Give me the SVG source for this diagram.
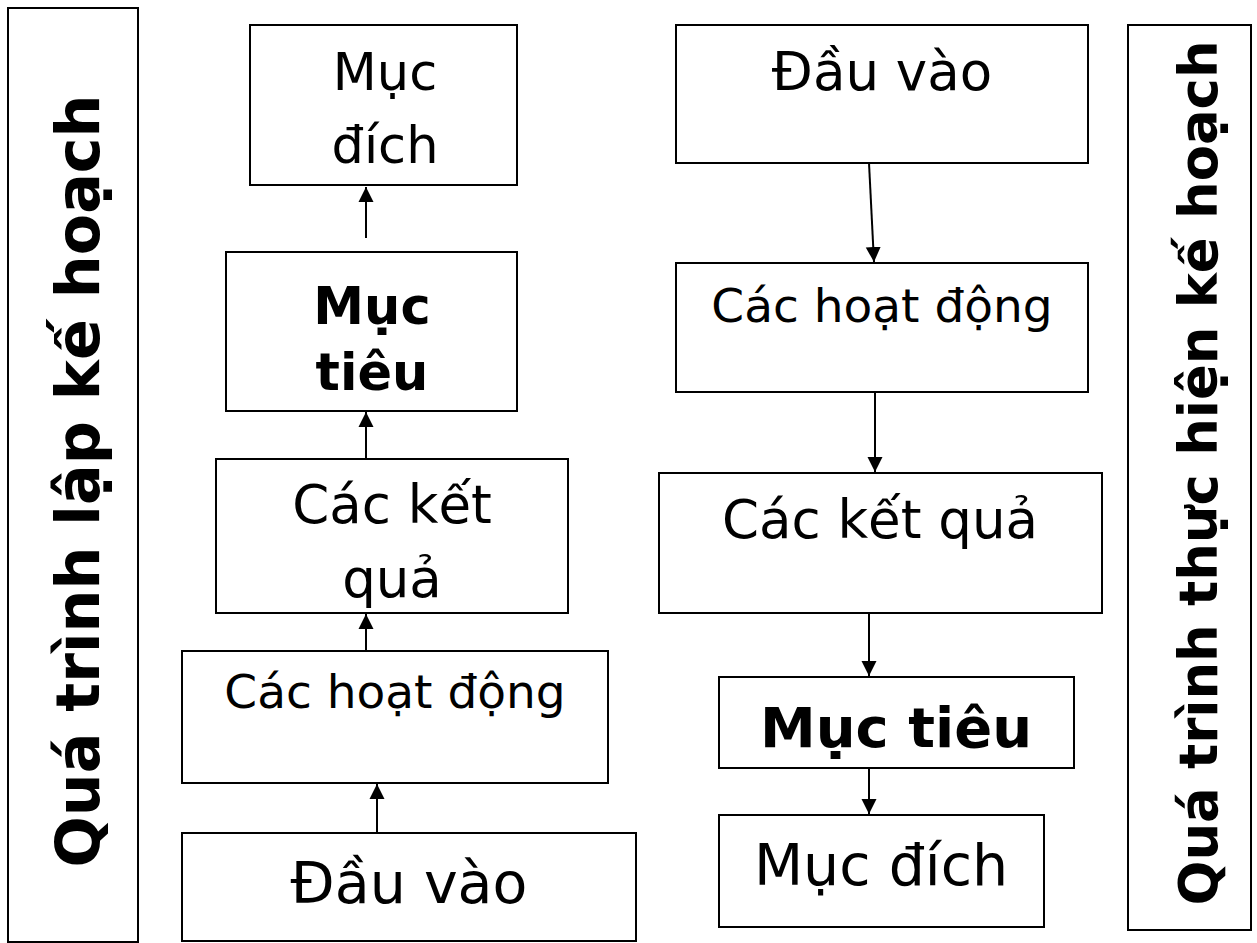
<svg xmlns="http://www.w3.org/2000/svg" width="1257" height="943" viewBox="0 0 1257 943">
<style>
  .box{fill:#fff;stroke:#000;stroke-width:2}
  .t{font-family:"DejaVu Sans","Verdana",sans-serif;fill:#000;text-anchor:middle}
  .b{font-weight:bold}
  .con{stroke:#000;stroke-width:2;fill:none}
</style>
<defs>
  <marker id="ah" markerUnits="userSpaceOnUse" markerWidth="16" markerHeight="16" viewBox="0 0 16 16" refX="15" refY="8" orient="auto">
    <path d="M0,0.5 L15,8 L0,15.5 Z" fill="#000"/>
  </marker>
</defs>
<rect width="1257" height="943" fill="#fff"/>

<g id="side-left">
  <rect class="box" x="8" y="8" width="130" height="934"/>
  <text class="t b" font-size="60" transform="translate(99,481) rotate(-90)" textLength="773" lengthAdjust="spacingAndGlyphs">Quá trình lập kế hoạch</text>
</g>
<g id="side-right">
  <rect class="box" x="1128" y="25" width="123" height="905"/>
  <text class="t b" font-size="53" transform="translate(1217,473) rotate(-90)" textLength="865" lengthAdjust="spacingAndGlyphs">Quá trình thực hiện kế hoạch</text>
</g>

<g id="l-mucdich">
  <rect class="box" x="250" y="25" width="267" height="160"/>
  <text class="t" font-size="51" x="385" y="90">Mục</text>
  <text class="t" font-size="51" x="385" y="163">đích</text>
</g>
<g id="l-muctieu">
  <rect class="box" x="226" y="252" width="291" height="159"/>
  <text class="t b" font-size="51" x="372" y="324">Mục</text>
  <text class="t b" font-size="51" x="372" y="390">tiêu</text>
</g>
<g id="l-ketqua">
  <rect class="box" x="216" y="459" width="352" height="154"/>
  <text class="t" font-size="53" x="392" y="523">Các kết</text>
  <text class="t" font-size="53" x="392" y="597">quả</text>
</g>
<g id="l-hoatdong">
  <rect class="box" x="182" y="651" width="426" height="132"/>
  <text class="t" font-size="47" x="395" y="708">Các hoạt động</text>
</g>
<g id="l-dauvao">
  <rect class="box" x="182" y="833" width="454" height="108"/>
  <text class="t" font-size="57" x="409" y="903">Đầu vào</text>
</g>

<g id="r-dauvao">
  <rect class="box" x="676" y="25" width="412" height="138"/>
  <text class="t" font-size="53" x="882" y="90">Đầu vào</text>
</g>
<g id="r-hoatdong">
  <rect class="box" x="676" y="263" width="412" height="129"/>
  <text class="t" font-size="47" x="882" y="322">Các hoạt động</text>
</g>
<g id="r-ketqua">
  <rect class="box" x="659" y="473" width="443" height="140"/>
  <text class="t" font-size="53" x="880" y="538">Các kết quả</text>
</g>
<g id="r-muctieu">
  <rect class="box" x="719" y="677" width="355" height="91"/>
  <text class="t b" font-size="56" x="896" y="747">Mục tiêu</text>
</g>
<g id="r-mucdich">
  <rect class="box" x="719" y="815" width="325" height="112"/>
  <text class="t" font-size="57" x="881" y="885">Mục đích</text>
</g>

<g id="connectors">
  <line class="con" x1="366" y1="238" x2="366" y2="187" marker-end="url(#ah)"/>
  <line class="con" x1="366" y1="459" x2="366" y2="412" marker-end="url(#ah)"/>
  <line class="con" x1="366" y1="651" x2="366" y2="614" marker-end="url(#ah)"/>
  <line class="con" x1="377" y1="833" x2="377" y2="784" marker-end="url(#ah)"/>
  <line class="con" x1="869" y1="163" x2="874" y2="262" marker-end="url(#ah)"/>
  <line class="con" x1="875" y1="392" x2="875" y2="472" marker-end="url(#ah)"/>
  <line class="con" x1="869" y1="613" x2="869" y2="676" marker-end="url(#ah)"/>
  <line class="con" x1="869" y1="768" x2="869" y2="814" marker-end="url(#ah)"/>
</g>
</svg>
